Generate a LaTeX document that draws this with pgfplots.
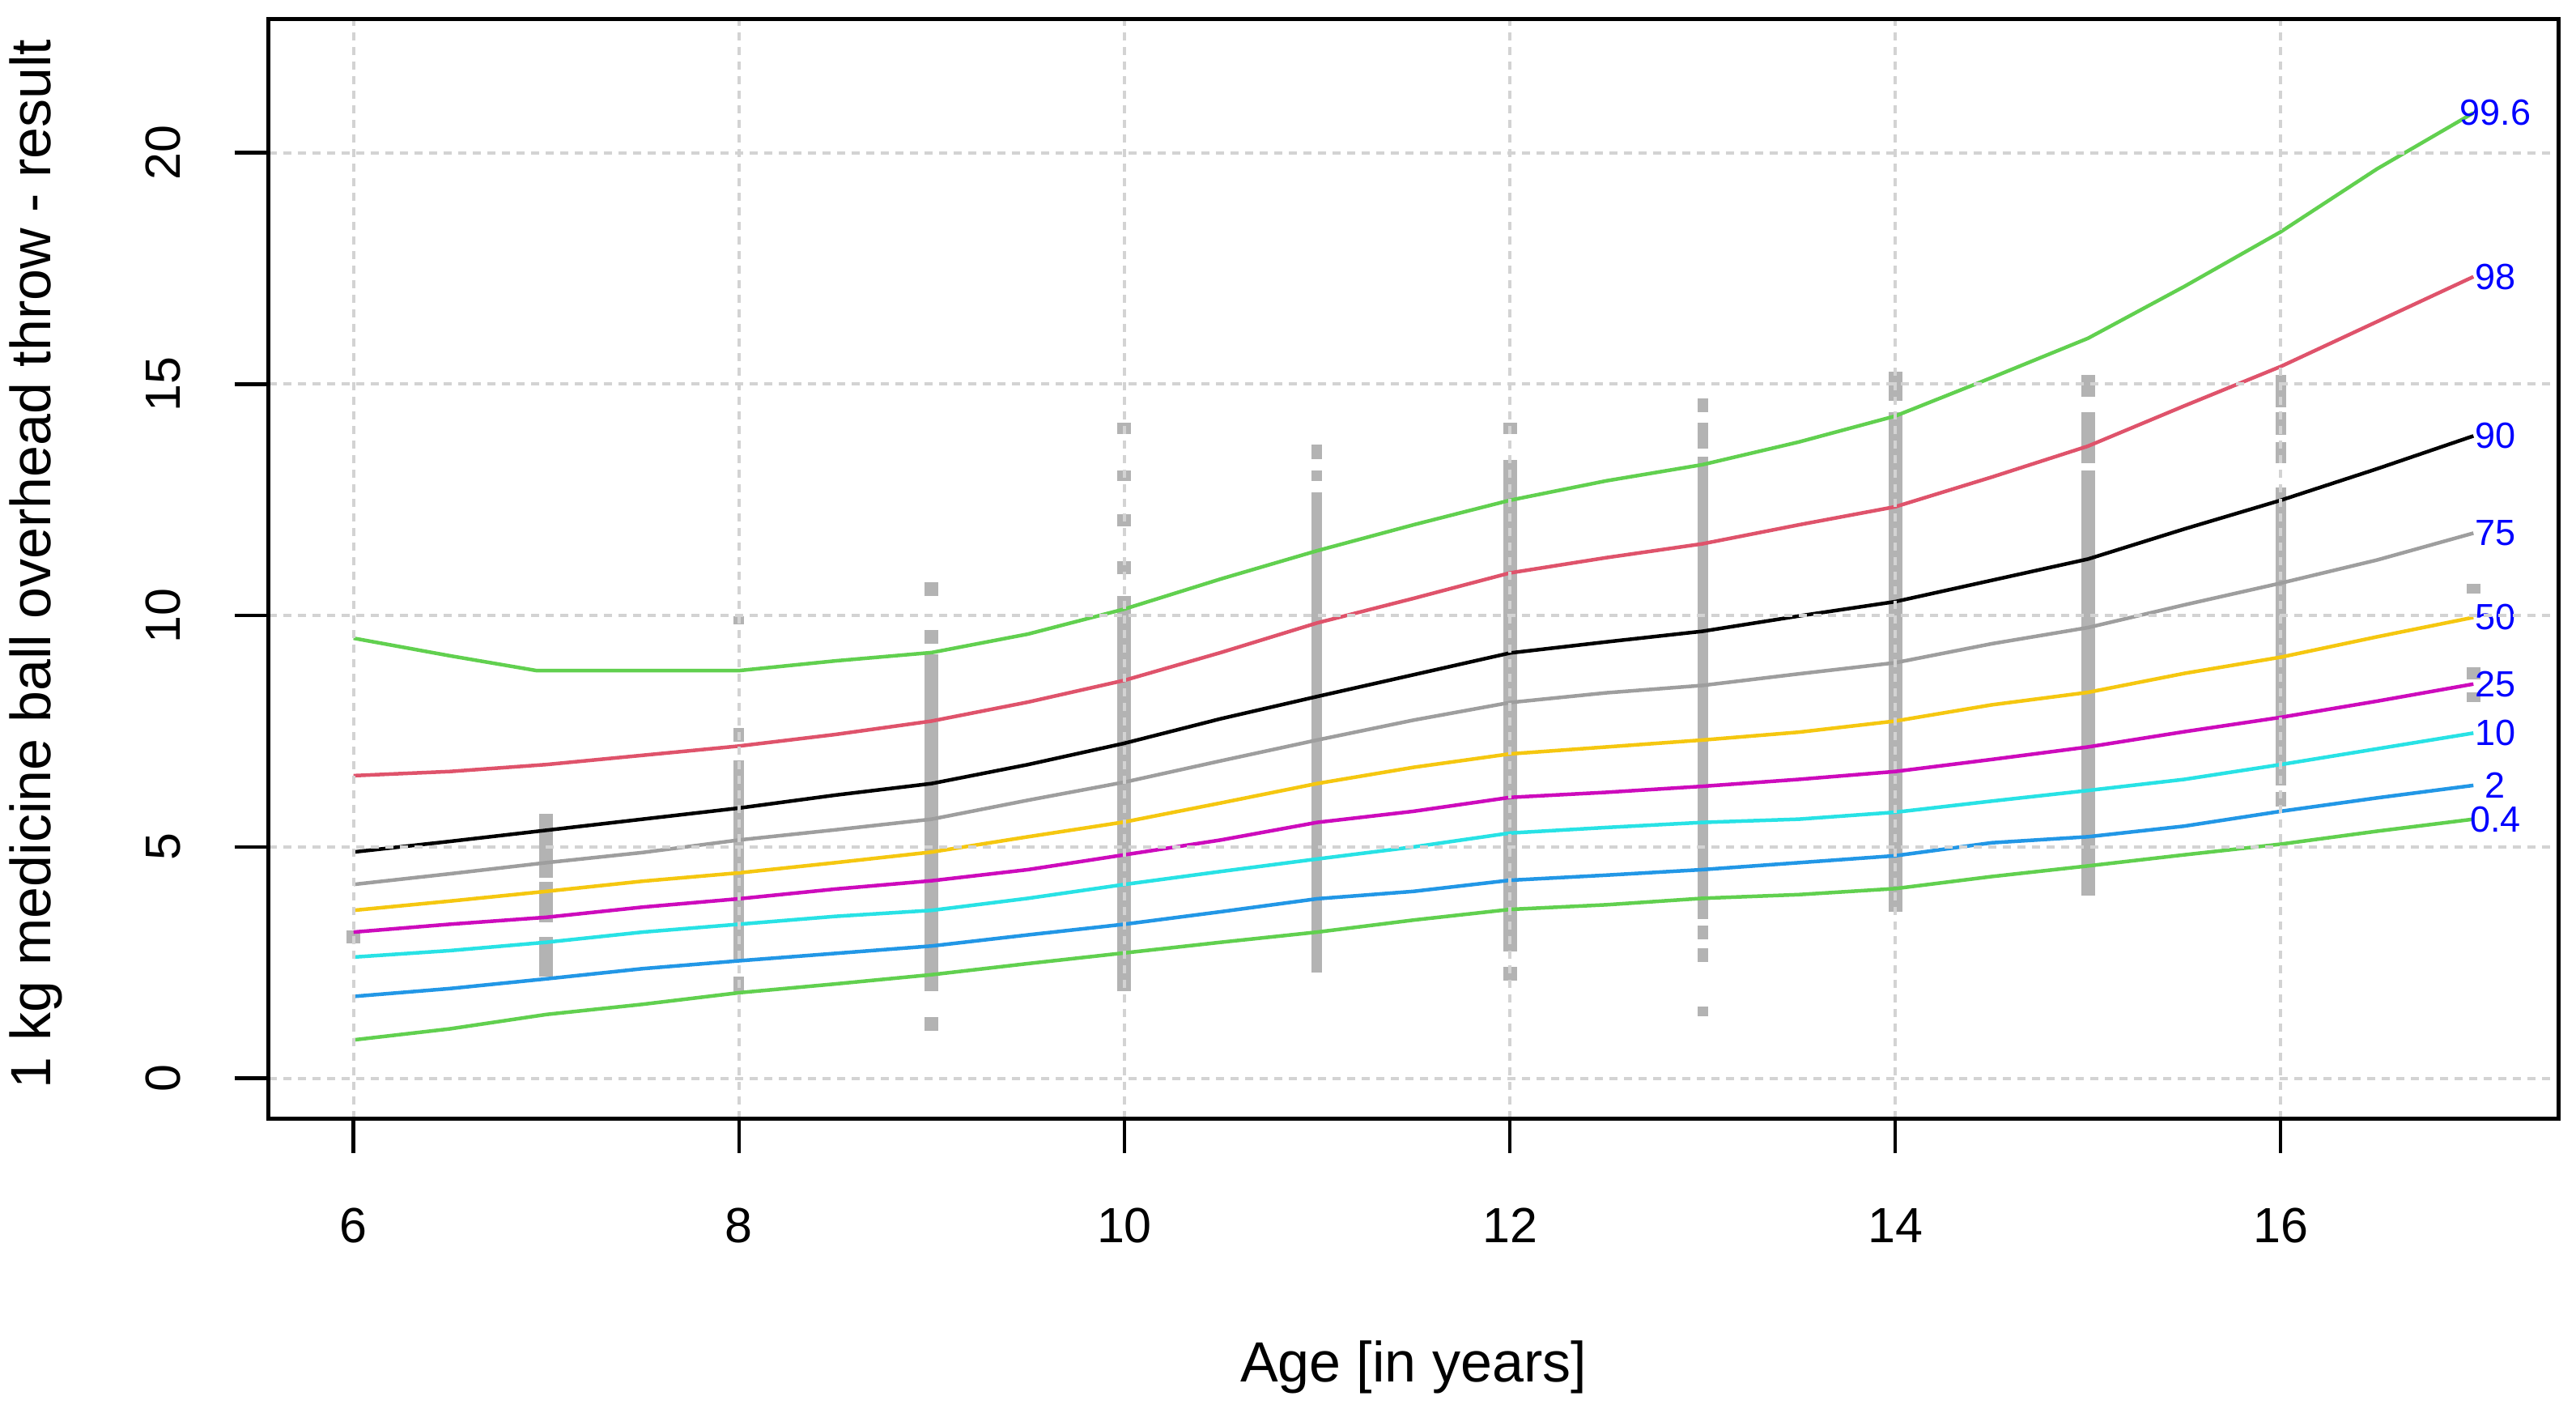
\documentclass[border=0pt]{standalone}
\usepackage{pgfplots}
\pgfplotsset{compat=1.18}
\usepackage{fontspec}
\setmainfont{Liberation Sans}
\definecolor{rgreen}{HTML}{61D04F}
\definecolor{rred}{HTML}{DF536B}
\definecolor{rgray}{HTML}{9E9E9E}
\definecolor{ryellow}{HTML}{F5C710}
\definecolor{rmagenta}{HTML}{CD0BBC}
\definecolor{rcyan}{HTML}{28E2E5}
\definecolor{rblue}{HTML}{2297E6}
\definecolor{pointgray}{HTML}{B3B3B3}
\definecolor{gridgray}{HTML}{D3D3D3}
\begin{document}
\begin{tikzpicture}
\begin{axis}[
    scale only axis,
    width=565.6pt, height=271.6pt,
    xmin=5.56, xmax=17.44,
    ymin=-0.88, ymax=22.88,
    xtick={6,8,...,16},
    ytick={0,5,...,20},
    tick align=outside, tick pos=left,
    major tick length=8.4pt,
    axis line style={line width=1pt},
    tick style={black, line width=0.9pt},
    grid=major,
    major grid style={color=gridgray, line width=0.8pt, dash pattern=on 2pt off 1.6pt},
    axis on top,
    /pgf/number format/assume math mode=true,
    ticklabel style={font=\fontsize{12.2}{14}\selectfont},
    xticklabel style={anchor=center, yshift=-17.9pt},
    yticklabel style={xshift=-17.6pt, rotate=90, anchor=center},
    label style={font=\fontsize{14}{16}\selectfont},
    xlabel={Age [in years]},
    ylabel={1 kg medicine ball overhead throw - result},
    xlabel style={at={(axis description cs:0.5,-0.2253)}, anchor=center},
    ylabel style={at={(axis description cs:-0.1018,0.505)}, anchor=center},
    unbounded coords=jump,
    every axis plot/.append style={line width=0.9pt},
]
% measured points (grey squares), stacked per age
\addplot[pointgray, line width=3.4pt] coordinates {
    (6,2.91) (6,3.19) (6,nan)
    (7,2.20) (7,3.06) (7,nan) (7,3.38) (7,4.24) (7,nan) (7,4.33) (7,5.71) (7,nan)
    (9,1.03) (9,1.33) (9,nan) (9,1.88) (9,9.16) (9,nan) (9,9.39) (9,9.69) (9,nan) (9,10.42) (9,10.72) (9,nan)
    (10,1.88) (10,10.42) (10,nan) (10,10.89) (10,11.17) (10,nan) (10,11.92) (10,12.19) (10,nan)
    (10,12.91) (10,13.14) (10,nan) (10,13.93) (10,14.17) (10,nan)
    (12,2.12) (12,2.41) (12,nan) (12,2.74) (12,13.37) (12,nan) (12,13.93) (12,14.16) (12,nan)
    (14,3.60) (14,14.40) (14,nan) (14,14.64) (14,15.26) (14,nan)
    (15,3.94) (15,13.14) (15,nan) (15,13.29) (15,14.40) (15,nan) (15,14.72) (15,15.19) (15,nan)
    (17,8.13) (17,8.34) (17,nan) (17,8.62) (17,8.88) (17,nan) (17,10.47) (17,10.68) (17,nan)
};
\addplot[pointgray, line width=2.6pt] coordinates {
    (8,1.86) (8,2.20) (8,nan) (8,2.54) (8,6.87) (8,nan) (8,7.28) (8,7.57) (8,nan) (8,9.81) (8,9.99) (8,nan)
    (11,2.29) (11,12.67) (11,nan) (11,12.91) (11,13.14) (11,nan) (11,13.38) (11,13.69) (11,nan)
    (13,1.35) (13,1.56) (13,nan) (13,2.51) (13,2.82) (13,nan) (13,3.00) (13,3.30) (13,nan)
    (13,3.45) (13,13.44) (13,nan) (13,13.61) (13,14.16) (13,nan) (13,14.40) (13,14.70) (13,nan)
    (16,5.87) (16,6.18) (16,nan) (16,6.33) (16,12.76) (16,nan) (16,13.29) (16,13.75) (16,nan)
    (16,13.90) (16,14.40) (16,nan) (16,14.50) (16,15.19) (16,nan)
};
% percentile curves
\addplot[rgreen] coordinates {
    (6,9.51) (6.5,9.13) (6.95,8.81) (7.5,8.81) (8,8.81) (8.5,9.02) (9,9.20) (9.5,9.60)
    (10,10.14) (10.5,10.79) (11,11.40) (11.5,11.96) (12,12.49) (12.5,12.91) (13,13.26)
    (13.5,13.75) (14,14.31) (14.5,15.14) (15,15.99) (15.5,17.11) (16,18.29) (16.5,19.65) (17,20.86)
} node[pos=1, anchor=center, xshift=5.4pt, text=blue, font=\fontsize{9}{10}\selectfont] {99.6};
\addplot[rred] coordinates {
    (6,6.54) (6.5,6.63) (7,6.78) (7.5,6.98) (8,7.18) (8.5,7.43) (9,7.72) (9.5,8.13)
    (10,8.60) (10.5,9.20) (11,9.84) (11.5,10.37) (12,10.92) (12.5,11.25) (13,11.55)
    (13.5,11.96) (14,12.35) (14.5,12.99) (15,13.66) (15.5,14.53) (16,15.38) (16.5,16.35) (17,17.32)
} node[pos=1, anchor=center, xshift=5.4pt, text=blue, font=\fontsize{9}{10}\selectfont] {98};
\addplot[black] coordinates {
    (6,4.89) (6.5,5.12) (7,5.36) (7.5,5.60) (8,5.84) (8.5,6.12) (9,6.37) (9.5,6.78)
    (10,7.24) (10.5,7.77) (11,8.25) (11.5,8.72) (12,9.19) (12.5,9.43) (13,9.66)
    (13.5,9.99) (14,10.30) (14.5,10.76) (15,11.22) (15.5,11.87) (16,12.49) (16.5,13.17) (17,13.88)
} node[pos=1, anchor=center, xshift=5.4pt, text=blue, font=\fontsize{9}{10}\selectfont] {90};
\addplot[rgray] coordinates {
    (6,4.19) (6.5,4.42) (7,4.66) (7.5,4.88) (8,5.15) (8.5,5.37) (9,5.60) (9.5,6.01)
    (10,6.40) (10.5,6.86) (11,7.31) (11.5,7.74) (12,8.12) (12.5,8.33) (13,8.49)
    (13.5,8.74) (14,8.98) (14.5,9.39) (15,9.74) (15.5,10.23) (16,10.70) (16.5,11.20) (17,11.78)
} node[pos=1, anchor=center, xshift=5.4pt, text=blue, font=\fontsize{9}{10}\selectfont] {75};
\addplot[ryellow] coordinates {
    (6,3.63) (6.5,3.83) (7,4.04) (7.5,4.26) (8,4.44) (8.5,4.66) (9,4.89) (9.5,5.22)
    (10,5.54) (10.5,5.95) (11,6.37) (11.5,6.72) (12,7.01) (12.5,7.16) (13,7.31)
    (13.5,7.48) (14,7.72) (14.5,8.07) (15,8.34) (15.5,8.75) (16,9.10) (16.5,9.54) (17,9.96)
} node[pos=1, anchor=center, xshift=5.4pt, text=blue, font=\fontsize{9}{10}\selectfont] {50};
\addplot[rmagenta] coordinates {
    (6,3.16) (6.5,3.33) (7,3.48) (7.5,3.70) (8,3.88) (8.5,4.09) (9,4.27) (9.5,4.51)
    (10,4.83) (10.5,5.15) (11,5.53) (11.5,5.77) (12,6.07) (12.5,6.18) (13,6.31)
    (13.5,6.46) (14,6.63) (14.5,6.89) (15,7.16) (15.5,7.49) (16,7.80) (16.5,8.15) (17,8.52)
} node[pos=1, anchor=center, xshift=5.4pt, text=blue, font=\fontsize{9}{10}\selectfont] {25};
\addplot[rcyan] coordinates {
    (6,2.62) (6.5,2.76) (7,2.94) (7.5,3.16) (8,3.33) (8.5,3.50) (9,3.63) (9.5,3.89)
    (10,4.19) (10.5,4.47) (11,4.74) (11.5,5.00) (12,5.30) (12.5,5.42) (13,5.53)
    (13.5,5.60) (14,5.75) (14.5,5.99) (15,6.22) (15.5,6.46) (16,6.78) (16.5,7.12) (17,7.46)
} node[pos=1, anchor=center, xshift=5.4pt, text=blue, font=\fontsize{9}{10}\selectfont] {10};
\addplot[rblue] coordinates {
    (6,1.77) (6.5,1.94) (7,2.15) (7.5,2.37) (8,2.54) (8.5,2.70) (9,2.86) (9.5,3.10)
    (10,3.33) (10.5,3.60) (11,3.88) (11.5,4.04) (12,4.28) (12.5,4.39) (13,4.51)
    (13.5,4.66) (14,4.81) (14.5,5.09) (15,5.22) (15.5,5.45) (16,5.77) (16.5,6.06) (17,6.33)
} node[pos=1, anchor=center, xshift=5.4pt, text=blue, font=\fontsize{9}{10}\selectfont] {2};
\addplot[rgreen] coordinates {
    (6,0.83) (6.5,1.07) (7,1.38) (7.5,1.60) (8,1.85) (8.5,2.04) (9,2.24) (9.5,2.48)
    (10,2.71) (10.5,2.94) (11,3.16) (11.5,3.42) (12,3.65) (12.5,3.75) (13,3.89)
    (13.5,3.97) (14,4.10) (14.5,4.36) (15,4.59) (15.5,4.83) (16,5.06) (16.5,5.34) (17,5.60)
} node[pos=1, anchor=center, xshift=5.4pt, text=blue, font=\fontsize{9}{10}\selectfont] {0.4};
\end{axis}
\pgfresetboundingbox
\path[use as bounding box] ([shift={(-66.4pt,-75.8pt)}]current axis.south west) rectangle ([shift={(4.4pt,4.8pt)}]current axis.north east);
\end{tikzpicture}
\end{document}
